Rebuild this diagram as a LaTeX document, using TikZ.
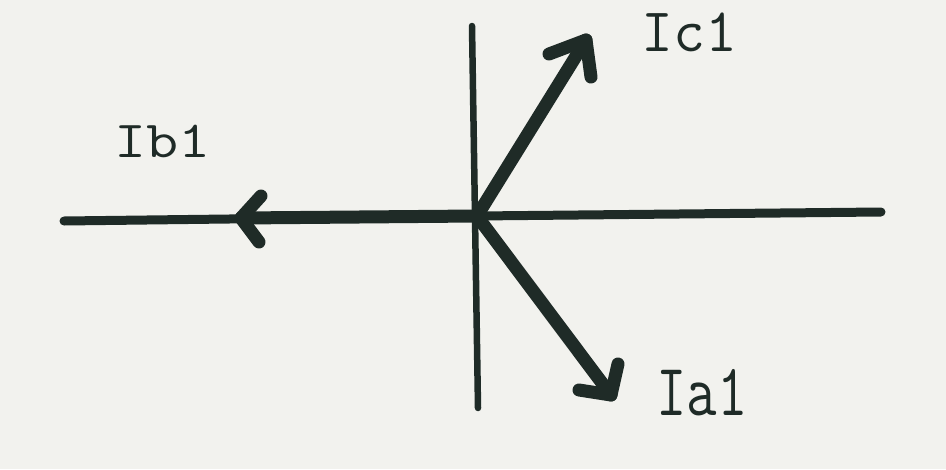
\documentclass[tikz,border=0pt]{standalone}
\usepackage{fontspec}
\definecolor{paper}{HTML}{F2F2EE}
\definecolor{ink}{HTML}{1F2B27}
\tikzset{
  axisline/.style={draw=ink, line width=9pt, line cap=round, line join=round},
  vaxis/.style={draw=ink, line width=6.5pt, line cap=round},
  vec/.style={draw=ink, line width=13pt, line cap=round, line join=round},
  lbl/.style={inner sep=0pt, text=ink, font=\ttfamily}
}
\begin{document}
\begin{tikzpicture}[x=1pt,y=-1pt]
\fill[paper] (0,0) rectangle (946,469);
\useasboundingbox (0,0) rectangle (946,469);
% key points
\coordinate (O) at (477,216);
\coordinate (L) at (64,221);
\coordinate (R) at (881,212);
\coordinate (T) at (472,26);
\coordinate (B) at (478,408);
\coordinate (Bt) at (241,218);
\coordinate (Bb1) at (261,196);
\coordinate (Bb2) at (259,242);
\coordinate (Ct) at (586,40);
\coordinate (Cb1) at (549,54);
\coordinate (Cb2) at (591,77);
\coordinate (At) at (611,395);
\coordinate (Ab1) at (579,390);
\coordinate (Ab2) at (618,364);
% axes
\draw[vaxis] (T) -- (B);
\draw[axisline] (L) -- (O) -- (R);
% vectors
\draw[vec] (O) -- (Bt);
\draw[vec] (Bb1) -- (Bt) -- (Bb2);
\draw[vec] (O) -- (Ct);
\draw[vec] (Cb1) -- (Ct) -- (Cb2);
\draw[vec] (O) -- (At);
\draw[vec] (Ab1) -- (At) -- (Ab2);
% labels
\node[lbl, anchor=base west] (ic) at (641,51) {\fontsize{62}{66}\selectfont Ic1};
\node[lbl, anchor=base west] (ib) at (114,157) {\scalebox{1.2}[1]{\fontsize{52}{56}\selectfont Ib1}};
\node[lbl, anchor=base west] (ia) at (656,415) {\scalebox{0.8}[1]{\fontsize{74}{78}\selectfont Ia1}};
\end{tikzpicture}
\end{document}
